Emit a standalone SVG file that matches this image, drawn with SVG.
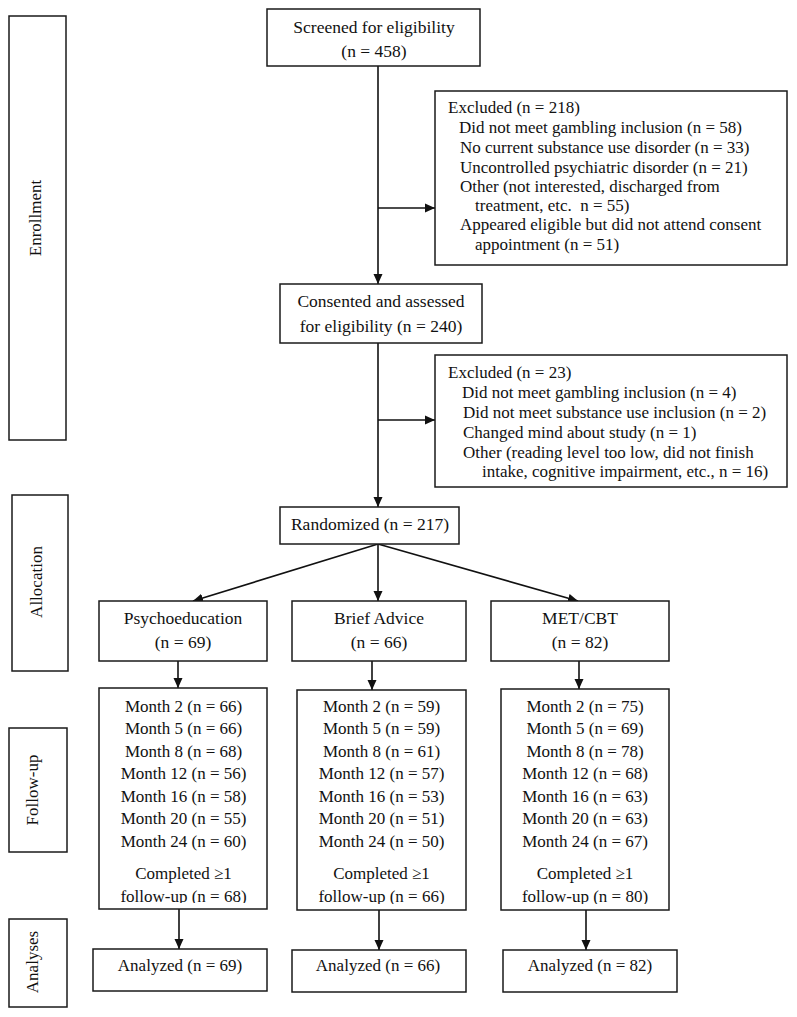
<svg xmlns="http://www.w3.org/2000/svg" width="797" height="1017" viewBox="0 0 797 1017">
<style>
.box{fill:#fff;stroke:#1a1a1a;stroke-width:1.5}
.t{font-family:"Liberation Serif","Times New Roman",serif;font-size:17.5px;fill:#111}
.s{font-family:"Liberation Serif","Times New Roman",serif;font-size:17px;fill:#111}
.c{text-anchor:middle}
.ln{stroke:#111;stroke-width:1.6;fill:none}
.ar{marker-end:url(#ah)}
</style>
<defs>
<marker id="ah" markerUnits="userSpaceOnUse" markerWidth="10" markerHeight="10" refX="10" refY="5" orient="auto">
<path d="M0,0.5 L10,5 L0,9.5 z" fill="#111"/>
</marker>
<clipPath id="cp1"><rect x="99" y="688" width="168" height="215"/></clipPath>
<clipPath id="cp2"><rect x="297" y="690" width="169" height="214"/></clipPath>
<clipPath id="cp3"><rect x="501" y="689" width="168" height="215"/></clipPath>
</defs>
<rect width="797" height="1017" fill="#fff"/>

<g id="stage-enrollment">
<rect class="box" x="9" y="16" width="57" height="424"/>
<text class="s c" transform="translate(41,218) rotate(-90)">Enrollment</text>
</g>
<g id="stage-allocation">
<rect class="box" x="12" y="495" width="56" height="176"/>
<text class="s c" transform="translate(42,582) rotate(-90)">Allocation</text>
</g>
<g id="stage-followup">
<rect class="box" x="9" y="728" width="58" height="124"/>
<text class="s c" transform="translate(38,790) rotate(-90)">Follow-up</text>
</g>
<g id="stage-analyses">
<rect class="box" x="9" y="919" width="58" height="88"/>
<text class="s c" transform="translate(38,962) rotate(-90)">Analyses</text>
</g>

<g id="connectors">
<line class="ln ar" x1="378" y1="66" x2="378" y2="284"/>
<line class="ln ar" x1="378" y1="208" x2="435" y2="208"/>
<line class="ln ar" x1="378" y1="343" x2="378" y2="507"/>
<line class="ln ar" x1="378" y1="420" x2="435" y2="420"/>
<line class="ln ar" x1="378" y1="544" x2="193" y2="601"/>
<line class="ln ar" x1="378" y1="544" x2="378" y2="601"/>
<line class="ln ar" x1="378" y1="544" x2="578" y2="601"/>
<line class="ln ar" x1="178" y1="661" x2="178" y2="688"/>
<line class="ln ar" x1="372" y1="661" x2="372" y2="690"/>
<line class="ln ar" x1="579" y1="661" x2="579" y2="689"/>
<line class="ln ar" x1="179" y1="909" x2="179" y2="949"/>
<line class="ln ar" x1="379" y1="910" x2="379" y2="950"/>
<line class="ln ar" x1="586" y1="910" x2="586" y2="950"/>
</g>

<g id="screened">
<rect class="box" x="267" y="9" width="213" height="57"/>
<text class="t c" x="374" y="33">Screened for eligibility</text>
<text class="t c" x="374" y="57">(n = 458)</text>
</g>

<g id="excluded1">
<rect class="box" x="435" y="91" width="352" height="174"/>
<text class="s" x="448" y="113">Excluded (n = 218)</text>
<text class="s" x="459" y="133">Did not meet gambling inclusion (n = 58)</text>
<text class="s" x="460" y="153">No current substance use disorder (n = 33)</text>
<text class="s" x="460" y="173">Uncontrolled psychiatric disorder (n = 21)</text>
<text class="s" x="460" y="192">Other (not interested, discharged from</text>
<text class="s" x="475" y="211" xml:space="preserve">treatment, etc.  n = 55)</text>
<text class="s" x="460" y="230">Appeared eligible but did not attend consent</text>
<text class="s" x="475" y="250">appointment (n = 51)</text>
</g>

<g id="consented">
<rect class="box" x="280" y="284" width="202" height="59"/>
<text class="t c" x="381" y="307">Consented and assessed</text>
<text class="t c" x="381" y="332">for eligibility (n = 240)</text>
</g>

<g id="excluded2">
<rect class="box" x="435" y="355" width="352" height="132"/>
<text class="s" x="448" y="378">Excluded (n = 23)</text>
<text class="s" x="462" y="398">Did not meet gambling inclusion (n = 4)</text>
<text class="s" x="463" y="418">Did not meet substance use inclusion (n = 2)</text>
<text class="s" x="463" y="438">Changed mind about study (n = 1)</text>
<text class="s" x="463" y="458">Other (reading level too low, did not finish</text>
<text class="s" x="482" y="477">intake, cognitive impairment, etc., n = 16)</text>
</g>

<g id="randomized">
<rect class="box" x="280" y="507" width="179" height="37"/>
<text class="t c" x="370" y="530">Randomized (n = 217)</text>
</g>

<g id="psychoeducation">
<rect class="box" x="99" y="601" width="168" height="60"/>
<text class="t c" x="183" y="624">Psychoeducation</text>
<text class="t c" x="183" y="648">(n = 69)</text>
</g>
<g id="brief-advice">
<rect class="box" x="292" y="601" width="174" height="60"/>
<text class="t c" x="379" y="624">Brief Advice</text>
<text class="t c" x="379" y="648">(n = 66)</text>
</g>
<g id="met-cbt">
<rect class="box" x="491" y="601" width="178" height="60"/>
<text class="t c" x="580" y="624">MET/CBT</text>
<text class="t c" x="580" y="648">(n = 82)</text>
</g>

<g id="followup-psycho">
<rect class="box" x="99" y="688" width="168" height="221"/>
<g class="s c">
<text x="183.5" y="712">Month 2 (n = 66)</text>
<text x="183.5" y="734">Month 5 (n = 66)</text>
<text x="183.5" y="757">Month 8 (n = 68)</text>
<text x="183.5" y="779">Month 12 (n = 56)</text>
<text x="183.5" y="802">Month 16 (n = 58)</text>
<text x="183.5" y="824">Month 20 (n = 55)</text>
<text x="183.5" y="847">Month 24 (n = 60)</text>
<text x="183.5" y="879">Completed ≥1</text>
<text x="183.5" y="902" clip-path="url(#cp1)">follow-up (n = 68)</text>
</g>
</g>
<g id="followup-brief">
<rect class="box" x="297" y="690" width="169" height="220"/>
<g class="s c">
<text x="381.5" y="712">Month 2 (n = 59)</text>
<text x="381.5" y="734">Month 5 (n = 59)</text>
<text x="381.5" y="757">Month 8 (n = 61)</text>
<text x="381.5" y="779">Month 12 (n = 57)</text>
<text x="381.5" y="802">Month 16 (n = 53)</text>
<text x="381.5" y="824">Month 20 (n = 51)</text>
<text x="381.5" y="847">Month 24 (n = 50)</text>
<text x="381.5" y="879">Completed ≥1</text>
<text x="381.5" y="902" clip-path="url(#cp2)">follow-up (n = 66)</text>
</g>
</g>
<g id="followup-met">
<rect class="box" x="501" y="689" width="168" height="221"/>
<g class="s c">
<text x="585" y="712">Month 2 (n = 75)</text>
<text x="585" y="734">Month 5 (n = 69)</text>
<text x="585" y="757">Month 8 (n = 78)</text>
<text x="585" y="779">Month 12 (n = 68)</text>
<text x="585" y="802">Month 16 (n = 63)</text>
<text x="585" y="824">Month 20 (n = 63)</text>
<text x="585" y="847">Month 24 (n = 67)</text>
<text x="585" y="879">Completed ≥1</text>
<text x="585" y="902" clip-path="url(#cp3)">follow-up (n = 80)</text>
</g>
</g>

<g id="analyzed-psycho">
<rect class="box" x="93" y="949" width="174" height="42"/>
<text class="s c" x="180" y="971">Analyzed (n = 69)</text>
</g>
<g id="analyzed-brief">
<rect class="box" x="292" y="950" width="174" height="42"/>
<text class="s c" x="378" y="971">Analyzed (n = 66)</text>
</g>
<g id="analyzed-met">
<rect class="box" x="503" y="950" width="174" height="42"/>
<text class="s c" x="590" y="971">Analyzed (n = 82)</text>
</g>
</svg>
